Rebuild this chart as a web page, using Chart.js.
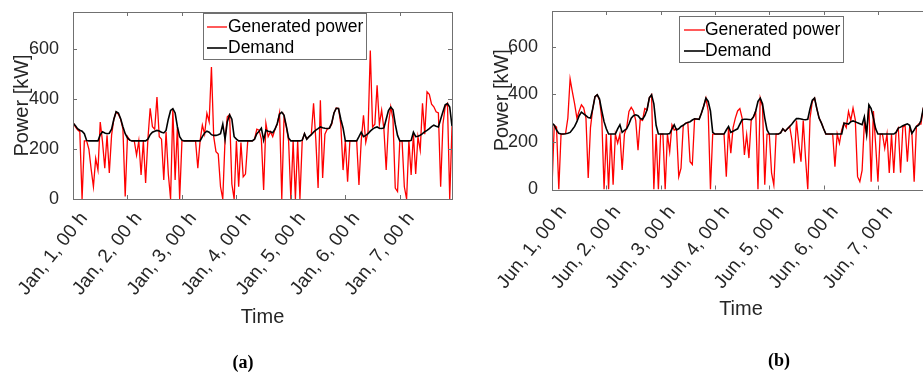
<!DOCTYPE html>
<html>
<head>
<meta charset="utf-8">
<script src="https://cdn.jsdelivr.net/npm/chart.js@4.4.1/dist/chart.umd.min.js"></script>
<style>
html, body { margin: 0; padding: 0; overflow: hidden; background: #fff; width: 923px; height: 374px; }
.panel { position: absolute; top: 0; }
.cap { position: absolute; font: bold 18px "Liberation Serif", "DejaVu Serif", serif; color: #000; transform: translate(-50%, -50%); }
</style>
</head>
<body>
<div class="panel" style="left:0"><canvas id="chartJan" width="460" height="374"></canvas></div>
<div class="panel" style="left:460px"><canvas id="chartJun" width="480" height="374"></canvas></div>
<div class="cap" style="left:243px;top:362px">(a)</div>
<div class="cap" style="left:779px;top:360px">(b)</div>
<script>
// hourly values, one week each (168 h)
const seriesNames = ['Generated power', 'Demand'];
const dayStartHours = [0, 24, 48, 72, 96, 120, 144];
const janTickLabels = ['Jan, 1, 00 h', 'Jan, 2, 00 h', 'Jan, 3, 00 h', 'Jan, 4, 00 h', 'Jan, 5, 00 h', 'Jan, 6, 00 h', 'Jan, 7, 00 h'];
const junTickLabels = ['Jun, 1, 00 h', 'Jun, 2, 00 h', 'Jun, 3, 00 h', 'Jun, 4, 00 h', 'Jun, 5, 00 h', 'Jun, 6, 00 h', 'Jun, 7, 00 h'];
const yTickValues = [0, 200, 400, 600];

const genJan = [
  309, 290, 278, 270, 0, 233, 233, 200, 120, 49, 163, 116, 309, 230, 124, 256, 104, 256, 320, 349, 340, 320, 280, 10,
  250, 236, 233, 233, 176, 233, 96, 233, 64, 240, 364, 290, 280, 409, 250, 240, 76, 270, 100, 0, 362, 76, 290, 0,
  233, 233, 233, 233, 233, 233, 233, 124, 233, 296, 260, 344, 310, 529, 250, 190, 180, 49, 0, 240, 330, 338, 60, 0,
  233, 49, 226, 89, 100, 233, 233, 233, 240, 280, 276, 240, 36, 303, 250, 270, 250, 280, 300, 345, 0, 330, 290, 233,
  0, 233, 0, 233, 0, 233, 262, 240, 250, 258, 384, 236, 44, 396, 84, 260, 280, 284, 300, 345, 365, 363, 300, 116,
  233, 69, 233, 233, 233, 233, 56, 233, 336, 227, 270, 596, 289, 300, 456, 300, 356, 280, 116, 300, 370, 320, 44, 30,
  233, 233, 49, 0, 233, 96, 260, 100, 250, 196, 384, 260, 430, 420, 380, 370, 350, 345, 49, 300, 370, 383, 0, 292
];
const demJan = [
  305, 295, 282, 276, 272, 262, 235, 233, 233, 233, 233, 233, 258, 270, 265, 262, 264, 280, 320, 350, 345, 322, 290, 262,
  245, 236, 233, 233, 233, 233, 233, 233, 233, 240, 258, 268, 272, 275, 273, 268, 265, 275, 320, 355, 362, 345, 290, 250,
  236, 233, 233, 233, 233, 233, 233, 233, 233, 250, 265, 272, 268, 258, 255, 255, 258, 262, 300, 240, 310, 338, 320, 250,
  240, 233, 233, 233, 233, 233, 233, 233, 240, 262, 272, 284, 236, 276, 272, 270, 266, 280, 303, 340, 348, 336, 292, 245,
  233, 233, 233, 233, 233, 236, 262, 240, 250, 258, 268, 276, 282, 289, 286, 284, 283, 284, 305, 345, 364, 363, 320, 285,
  233, 233, 233, 233, 233, 233, 250, 268, 250, 255, 262, 272, 280, 286, 289, 284, 283, 285, 320, 355, 369, 358, 300, 255,
  233, 233, 233, 233, 233, 235, 268, 250, 252, 256, 262, 270, 275, 282, 290, 296, 292, 289, 320, 350, 378, 383, 369, 292
];
const genJun = [
  10, 270, 262, 0, 233, 233, 235, 300, 465, 410, 360, 300, 330, 356, 343, 300, 48, 260, 340, 390, 398, 375, 300, 0,
  233, 0, 233, 20, 233, 195, 233, 82, 233, 260, 328, 345, 330, 290, 165, 295, 290, 340, 335, 385, 398, 0, 233, 0,
  233, 233, 0, 233, 159, 272, 250, 255, 54, 90, 270, 278, 282, 117, 105, 297, 296, 295, 320, 350, 384, 330, 0, 233,
  233, 233, 233, 233, 233, 54, 260, 153, 260, 300, 330, 340, 300, 145, 230, 132, 290, 305, 330, 0, 384, 350, 20, 233,
  233, 70, 19, 233, 233, 238, 255, 245, 255, 265, 208, 110, 290, 195, 117, 290, 132, 0, 300, 370, 384, 340, 300, 280,
  255, 233, 233, 233, 233, 96, 233, 194, 250, 279, 260, 328, 290, 342, 293, 54, 33, 80, 280, 233, 356, 33, 330, 187,
  33, 233, 233, 173, 233, 70, 233, 70, 240, 258, 70, 262, 268, 117, 260, 236, 33, 265, 276, 275, 340, 370, 380, 340
];
const demJun = [
  279, 270, 250, 236, 233, 233, 234, 236, 240, 252, 265, 285, 310, 325, 318, 310, 302, 300, 340, 390, 398, 380, 330, 285,
  255, 233, 233, 233, 233, 255, 272, 240, 248, 255, 275, 300, 310, 314, 310, 298, 295, 310, 335, 385, 398, 360, 270, 233,
  233, 233, 233, 233, 235, 255, 272, 250, 255, 265, 270, 278, 282, 285, 292, 297, 296, 295, 320, 350, 384, 370, 330, 240,
  233, 233, 233, 233, 233, 250, 265, 240, 245, 250, 255, 275, 293, 295, 295, 294, 293, 305, 330, 370, 384, 360, 300, 250,
  233, 233, 233, 233, 233, 238, 255, 245, 255, 265, 275, 288, 298, 298, 296, 294, 293, 295, 340, 375, 384, 340, 300, 280,
  255, 233, 233, 233, 233, 233, 233, 233, 233, 279, 277, 275, 285, 288, 285, 280, 276, 272, 305, 233, 356, 340, 300, 255,
  233, 233, 233, 233, 233, 233, 233, 233, 240, 258, 262, 268, 272, 276, 270, 236, 250, 265, 270, 290, 340, 370, 380, 350
];

const FONT = 'Liberation Sans';
const TXT = '#262626';

// box around the plot with inward ticks on all four sides (matlab style)
const framePlugin = {
  id: 'frame',
  afterDatasetsDraw(chart) {
    const { ctx, chartArea: a, scales: { x, y } } = chart;
    ctx.save();
    ctx.strokeStyle = '#707070';
    ctx.lineWidth = 1;
    ctx.beginPath();
    x.ticks.forEach(t => {
      const px = Math.round(x.getPixelForValue(t.value)) + 0.5;
      ctx.moveTo(px, a.bottom); ctx.lineTo(px, a.bottom - 4);
      ctx.moveTo(px, a.top); ctx.lineTo(px, a.top + 4);
    });
    y.ticks.forEach(t => {
      const py = Math.round(y.getPixelForValue(t.value)) + 0.5;
      ctx.moveTo(a.left, py); ctx.lineTo(a.left + 4, py);
      ctx.moveTo(a.right, py); ctx.lineTo(a.right - 4, py);
    });
    ctx.stroke();
    ctx.strokeRect(Math.round(a.left) + 0.5, Math.round(a.top) + 0.5, Math.round(a.width), Math.round(a.height));
    ctx.restore();
  }
};

// legend drawn inside the axes with a white box
const legendPlugin = {
  id: 'boxLegend',
  afterDraw(chart, args, o) {
    const ctx = chart.ctx;
    ctx.save();
    ctx.fillStyle = '#fff';
    ctx.fillRect(o.left, o.top, o.width, o.height);
    ctx.strokeStyle = '#707070';
    ctx.lineWidth = 1;
    ctx.strokeRect(o.left + 0.5, o.top + 0.5, o.width, o.height);
    ctx.font = '17.5px "' + FONT + '"';
    ctx.textBaseline = 'middle';
    chart.data.datasets.forEach((ds, i) => {
      const yy = o.top + o.rowTop + i * o.rowGap;
      ctx.strokeStyle = ds.borderColor;
      ctx.lineWidth = ds.borderWidth;
      ctx.beginPath();
      ctx.moveTo(o.left + o.lineX0, yy);
      ctx.lineTo(o.left + o.lineX1, yy);
      ctx.stroke();
      ctx.fillStyle = '#000';
      ctx.fillText(ds.label, o.left + o.textX, yy);
    });
    ctx.restore();
  }
};

// fixed axis sizes, no automatic label padding
function fixSize(s, w, h) {
  if (w != null) s.width = w;
  if (h != null) s.height = h;
  s.paddingTop = 0; s.paddingBottom = 0; s.paddingLeft = 0; s.paddingRight = 0;
}

function makeChart(id, gen, dem, tickLabels, g) {
  return new Chart(document.getElementById(id), {
    type: 'line',
    data: {
      datasets: [
        { label: seriesNames[0], data: gen.map((v, i) => ({ x: i, y: v })), borderColor: '#ff0000', borderWidth: 1.3, pointRadius: 0, tension: 0, order: 1 },
        { label: seriesNames[1], data: dem.map((v, i) => ({ x: i, y: v })), borderColor: '#000000', borderWidth: 1.6, pointRadius: 0, tension: 0, order: 0 }
      ]
    },
    options: {
      responsive: false,
      animation: false,
      devicePixelRatio: 1,
      layout: { padding: g.pad },
      plugins: { legend: { display: false }, tooltip: { enabled: false }, boxLegend: g.legend },
      scales: {
        x: {
          type: 'linear', min: 0, max: 167,
          grid: { display: false }, border: { display: false },
          afterBuildTicks: s => { s.ticks = dayStartHours.map(v => ({ value: v })); },
          afterFit: s => fixSize(s, null, g.xh),
          ticks: {
            autoSkip: false, minRotation: 51.5, maxRotation: 51.5, padding: g.tickPad, labelOffset: 11, color: TXT,
            font: { family: FONT, size: 19 },
            callback: v => tickLabels[dayStartHours.indexOf(v)]
          },
          title: { display: true, text: 'Time', color: TXT, font: { family: FONT, size: 20 }, padding: { top: 0, bottom: 4 } }
        },
        y: {
          min: 0, max: 750,
          grid: { display: false }, border: { display: false },
          afterBuildTicks: s => { s.ticks = yTickValues.map(v => ({ value: v })); },
          afterFit: s => fixSize(s, g.yw, null),
          ticks: { padding: 6, color: TXT, font: { family: FONT, size: 18 } },
          title: { display: true, text: 'Power [kW]', color: TXT, font: { family: FONT, size: 20 }, padding: { top: 4, bottom: 0 } }
        }
      }
    },
    plugins: [framePlugin, legendPlugin]
  });
}

makeChart('chartJan', genJan, demJan, janTickLabels, {
  pad: { left: 6, right: 8, top: 12, bottom: 41 }, yw: 67, xh: 134, tickPad: 1,
  legend: { left: 203, top: 13, width: 163, height: 46, lineX0: 4, lineX1: 24, textX: 25, rowTop: 14, rowGap: 21 }
});
makeChart('chartJun', genJun, demJun, junTickLabels, {
  pad: { left: 26, right: 10, top: 11, bottom: 49 }, yw: 66, xh: 135.5, tickPad: 4,
  legend: { left: 219, top: 16, width: 164, height: 46, lineX0: 5, lineX1: 26, textX: 26, rowTop: 14, rowGap: 21 }
});
</script>
</body>
</html>
